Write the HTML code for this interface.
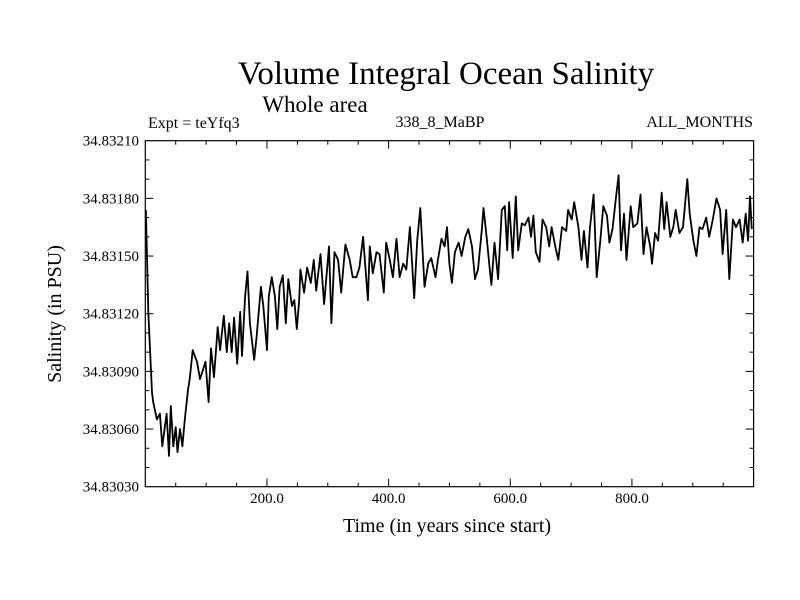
<!DOCTYPE html>
<html><head><meta charset="utf-8"><style>
body{margin:0;background:#fff;}
svg{display:block;font-family:"Liberation Serif",serif;}
</style></head><body>
<svg id="chart" width="800" height="600" viewBox="0 0 800 600">
<rect x="0" y="0" width="800" height="600" fill="#fff"/>
<text x="446" y="84" font-size="33" text-anchor="middle">Volume Integral Ocean Salinity</text>
<text x="315" y="112" font-size="23" text-anchor="middle">Whole area</text>
<text x="148" y="128" font-size="16">Expt = teYfq3</text>
<text x="440" y="127" font-size="16" text-anchor="middle">338_8_MaBP</text>
<text x="753" y="127" font-size="16" text-anchor="end">ALL_MONTHS</text>
<text x="447" y="532" font-size="20" text-anchor="middle">Time (in years since start)</text>
<text transform="translate(61,314) rotate(-90)" font-size="20" text-anchor="middle">Salinity (in PSU)</text>
<g id="axes"></g>
<g id="series"></g>
</svg>
<script>
const xTickValues = [200, 400, 600, 800];
const xTickLabels = ["200.0", "400.0", "600.0", "800.0"];
const yTickValues = [34.8303, 34.8306, 34.8309, 34.8312, 34.8315, 34.8318, 34.8321];
const yTickLabels = ["34.83030", "34.83060", "34.83090", "34.83120", "34.83150", "34.83180", "34.83210"];
const years = [1,5,11,13,19,24,28,32,35,39,42,46,50,53,57,61,65,70,73,78,85,90,95,99,104,108,113,119,123,129,134,138,142,146,151,156,159,164,168,172,179,183,190,194,200,203,208,213,217,221,226,231,235,241,245,249,253,255,261,266,272,277,281,288,294,302,306,311,317,322,329,336,341,347,352,358,366,369,374,380,385,392,396,402,407,413,418,424,429,435,442,447,452,459,465,470,477,481,487,492,496,500,504,509,515,520,526,531,537,542,547,553,556,561,566,569,574,580,586,591,595,598,604,609,613,619,624,630,634,638,642,648,653,659,664,668,674,679,685,692,695,701,705,712,717,721,727,731,737,742,748,753,759,763,768,774,778,782,787,791,798,802,809,814,819,824,830,833,838,843,849,853,857,863,868,872,878,884,891,895,901,906,911,916,922,927,933,939,945,949,955,960,966,971,977,982,987,991,994,997];
const salinity = [34.83174,34.83121,34.83079,34.83074,34.83065,34.83068,34.83051,34.83061,34.83068,34.83046,34.83072,34.83051,34.83061,34.83048,34.83060,34.83051,34.83065,34.83080,34.83086,34.83101,34.83095,34.83086,34.83091,34.83095,34.83074,34.83102,34.83087,34.83113,34.83101,34.83119,34.83100,34.83115,34.83100,34.83118,34.83094,34.83121,34.83098,34.83129,34.83142,34.83115,34.83096,34.83108,34.83134,34.83124,34.83101,34.83129,34.83139,34.83129,34.83112,34.83134,34.83140,34.83115,34.83138,34.83124,34.83127,34.83112,34.83127,34.83143,34.83131,34.83144,34.83136,34.83148,34.83132,34.83151,34.83125,34.83155,34.83115,34.83152,34.83148,34.83131,34.83156,34.83148,34.83139,34.83139,34.83144,34.83160,34.83127,34.83155,34.83141,34.83152,34.83151,34.83131,34.83157,34.83148,34.83139,34.83159,34.83139,34.83146,34.83143,34.83165,34.83128,34.83158,34.83175,34.83134,34.83146,34.83149,34.83139,34.83148,34.83159,34.83155,34.83165,34.83146,34.83136,34.83152,34.83157,34.83150,34.83160,34.83164,34.83155,34.83138,34.83143,34.83163,34.83175,34.83160,34.83144,34.83135,34.83157,34.83138,34.83174,34.83176,34.83153,34.83178,34.83149,34.83181,34.83153,34.83167,34.83166,34.83170,34.83160,34.83171,34.83152,34.83147,34.83169,34.83165,34.83155,34.83165,34.83155,34.83148,34.83165,34.83163,34.83174,34.83169,34.83178,34.83165,34.83148,34.83163,34.83144,34.83165,34.83182,34.83139,34.83158,34.83176,34.83171,34.83157,34.83164,34.83181,34.83192,34.83153,34.83172,34.83148,34.83176,34.83165,34.83167,34.83182,34.83151,34.83165,34.83155,34.83146,34.83162,34.83158,34.83183,34.83164,34.83178,34.83160,34.83165,34.83174,34.83162,34.83165,34.83190,34.83172,34.83158,34.83150,34.83165,34.83164,34.83170,34.83160,34.83169,34.83180,34.83174,34.83151,34.83174,34.83138,34.83169,34.83165,34.83169,34.83157,34.83172,34.83158,34.83181,34.83164];

const L = 145.3, R = 753.6, T = 140.7, B = 486.7;
const xMin = 0, xMax = 1000, yMin = 34.8303, yMax = 34.8321;
function xs(v){ return L + (v - xMin) / (xMax - xMin) * (R - L); }
function ys(v){ return B - (v - yMin) / (yMax - yMin) * (B - T); }
const NS = "http://www.w3.org/2000/svg";
const axes = document.getElementById('axes');
const series = document.getElementById('series');
function mk(tag, attrs, parent){
  const e = document.createElementNS(NS, tag);
  for (const k in attrs) e.setAttribute(k, attrs[k]);
  parent.appendChild(e);
  return e;
}
const frame = mk('rect', {x:L, y:T, width:R-L, height:B-T, fill:'none', stroke:'#000', 'stroke-width':1.2}, axes);


for (let v = 50; v < xMax; v += 50) {
  const major = v % 200 === 0;
  const len = major ? 8 : 4;
  const x = xs(v);
  const tb = mk('line', {x1:x, x2:x, y1:B, y2:B-len, stroke:'#000', 'stroke-width':1}, axes);
  
  
  const tt = mk('line', {x1:x, x2:x, y1:T, y2:T+len, stroke:'#000', 'stroke-width':1}, axes);
  
  
}
xTickValues.forEach((v, i) => {
  const t = mk('text', {x:xs(v), y:503, 'font-size':15, 'text-anchor':'middle'}, axes);
  t.textContent = xTickLabels[i];
  
  
});
for (let i = 1; i < 18; i++) {
  const v = yMin + i * 0.0001;
  const major = i % 3 === 0;
  const len = major ? 8 : 4;
  const y = ys(v);
  const tl = mk('line', {x1:L, x2:L+len, y1:y, y2:y, stroke:'#000', 'stroke-width':1}, axes);
  
  
  const tr = mk('line', {x1:R, x2:R-len, y1:y, y2:y, stroke:'#000', 'stroke-width':1}, axes);
  
  
}
yTickValues.forEach((v, i) => {
  const t = mk('text', {x:139, y:ys(v)+5, 'font-size':15, 'text-anchor':'end'}, axes);
  t.textContent = yTickLabels[i];
  
  
});
const pts = years.map((yr, i) => xs(yr).toFixed(1) + ',' + ys(salinity[i]).toFixed(1)).join(' ');
const line = mk('polyline', {points:pts, fill:'none', stroke:'#000', 'stroke-width':1.8, 'stroke-linejoin':'round'}, series);


</script>
</body></html>
